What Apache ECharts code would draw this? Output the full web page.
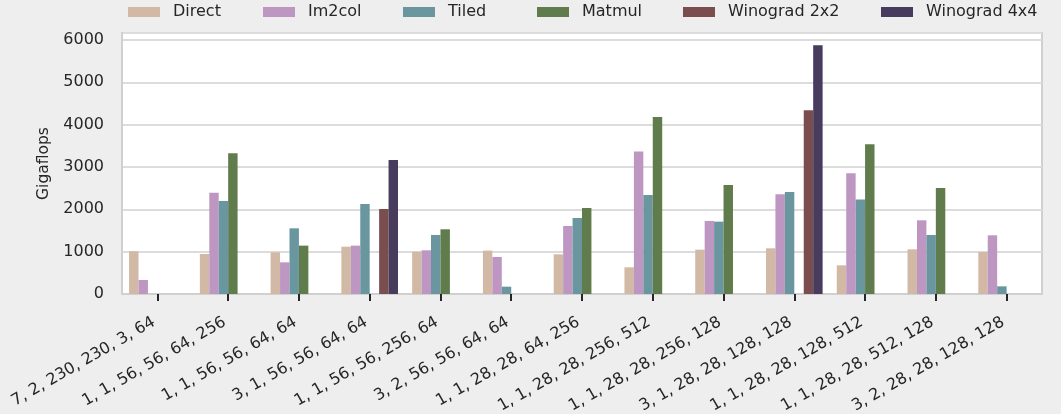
<!DOCTYPE html>
<html>
<head>
<meta charset="utf-8">
<script src="https://cdn.jsdelivr.net/npm/echarts@6/dist/echarts.min.js"></script>
<style>
  html, body { margin: 0; padding: 0; background: #eeeeee; }
  #chart { width: 1061px; height: 414px; }
</style>
</head>
<body>
<div id="chart"></div>
<script>
// Convolution layer configurations (kernel, stride, H, W, Cin, Cout)
const categories = [
  '7, 2, 230, 230, 3, 64',
  '1, 1, 56, 56, 64, 256',
  '1, 1, 56, 56, 64, 64',
  '3, 1, 56, 56, 64, 64',
  '1, 1, 56, 56, 256, 64',
  '3, 2, 56, 56, 64, 64',
  '1, 1, 28, 28, 64, 256',
  '1, 1, 28, 28, 256, 512',
  '1, 1, 28, 28, 256, 128',
  '3, 1, 28, 28, 128, 128',
  '1, 1, 28, 28, 128, 512',
  '1, 1, 28, 28, 512, 128',
  '3, 2, 28, 28, 128, 128'
];

const seriesNames = ['Direct', 'Im2col', 'Tiled', 'Matmul', 'Winograd 2x2', 'Winograd 4x4'];

// Throughput in Gigaflops per method (null = method not applicable)
const direct   = [1010, 945, 985, 1118, 1000, 1024, 937, 630, 1047, 1079, 677, 1055, 992];
const im2col   = [331, 2393, 748, 1142, 1032, 874, 1606, 3366, 1725, 2354, 2850, 1740, 1386];
const tiled    = [null, 2197, 1551, 2126, 1394, 173, 1795, 2339, 1709, 2410, 2229, 1394, 181];
const matmul   = [null, 3323, 1142, null, 1528, null, 2032, 4181, 2575, null, 3535, 2504, null];
const wino2x2  = [null, null, null, 2008, null, null, null, null, null, 4339, null, null, null];
const wino4x4  = [null, null, null, 3166, null, null, null, null, null, 5874, null, null, null];

const yTicks = [0, 1000, 2000, 3000, 4000, 5000, 6000];

const colors = ['#d2b9a5', '#bd97c2', '#6a96a0', '#607c4c', '#7a4e4e', '#473b5e'];
const values = [direct, im2col, tiled, matmul, wino2x2, wino4x4];

// left offset of each legend entry
const legendLeft = [128, 263, 403, 537, 683, 881];

const textColor = '#262626';
const font = 'DejaVu Sans';

const chart = echarts.init(document.getElementById('chart'));
chart.setOption({
  backgroundColor: '#eeeeee',
  animation: false,
  color: colors,
  textStyle: { fontFamily: font },
  legend: seriesNames.map((name, i) => ({
    top: 4,
    left: legendLeft[i],
    padding: 0,
    itemWidth: 32,
    itemHeight: 10,
    icon: 'rect',
    textStyle: { fontFamily: font, fontSize: 16, color: textColor, padding: [0, 0, 0, 8] },
    data: [name]
  })),
  grid: {
    left: 122,
    right: 19,
    top: 33,
    bottom: 120,
    containLabel: false,
    outerBoundsMode: 'none',
    show: true,
    backgroundColor: '#ffffff',
    borderColor: '#d0d0d0',
    borderWidth: 2
  },
  xAxis: {
    type: 'category',
    data: categories,
    axisLine: { show: true, lineStyle: { color: '#d0d0d0', width: 2 } },
    axisTick: { show: true, alignWithLabel: true, length: 7, lineStyle: { color: textColor, width: 2 } },
    axisLabel: {
      rotate: 30,
      interval: 0,
      margin: 25,
      padding: [0, 4, 0, 0],
      fontFamily: font,
      fontSize: 16,
      color: textColor
    }
  },
  yAxis: {
    type: 'value',
    min: 0,
    max: 6163,
    interval: 1000,
    name: 'Gigaflops',
    nameLocation: 'middle',
    nameGap: 66,
    nameTextStyle: { fontFamily: font, fontSize: 15.5, color: textColor },
    axisLine: { show: true, lineStyle: { color: '#d0d0d0', width: 2 } },
    axisTick: { show: false },
    splitLine: { show: true, lineStyle: { color: '#dcdcdc', width: 2 } },
    axisLabel: {
      showMaxLabel: false,
      margin: 18,
      fontFamily: font,
      fontSize: 16,
      color: textColor,
      formatter: v => (yTicks.includes(v) ? String(v) : '')
    }
  },
  series: seriesNames.map((name, i) => ({
    name,
    type: 'bar',
    data: values[i],
    barGap: '0%',
    barCategoryGap: '20%',
    itemStyle: { color: colors[i] }
  }))
});
</script>
</body>
</html>
